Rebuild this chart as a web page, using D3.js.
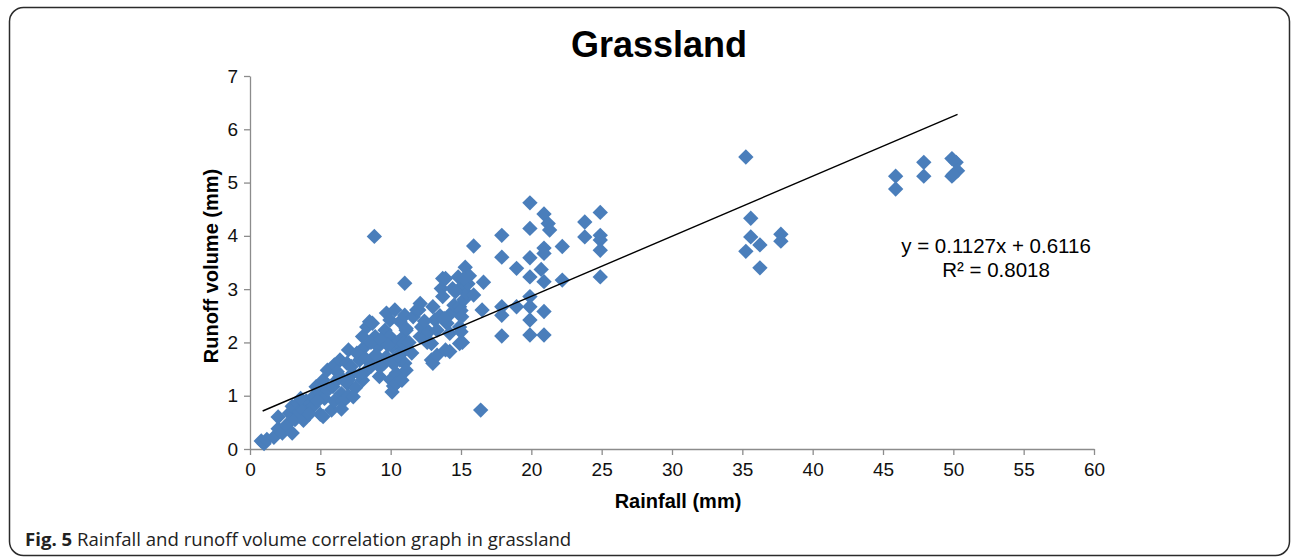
<!DOCTYPE html>
<html lang="en">
<head>
  <meta charset="UTF-8" />
  <title>Grassland rainfall vs runoff</title>
  <script src="https://d3js.org/d3.v7.min.js"></script>
  <style>
    body { margin:0; padding:0; background:#fff; }
    svg { display:block; font-family:"Liberation Sans", Arial, sans-serif; }
    .axis path, .axis line { stroke:#8c8c8c; stroke-width:1.3px; }
    .axis text { font-size:19px; fill:#111; }
  </style>
</head>
<body>
  <svg width="1292" height="557"></svg>

  <script>
  // rainfall (mm) and runoff volume (mm)
  const rainfall = [
    0.8,1.0,1.2,1.7,2.0,2.0,2.3,2.6,2.8,3.0,3.0,3.2,3.4,3.5,3.8,3.8,4.0,4.3,4.5,4.5,
    4.7,5.0,5.0,5.2,5.2,5.3,5.5,5.5,5.8,5.9,6.0,6.0,6.2,6.4,6.4,6.5,6.6,6.5,6.9,6.9,
    7.0,7.0,7.3,7.34,7.5,7.8,8.0,8.05,8.0,8.3,8.3,8.5,8.6,8.7,8.8,8.84,8.9,9.1,9.2,9.24,
    9.5,9.6,9.7,9.7,9.95,9.95,10.0,10.1,10.1,10.2,10.3,10.4,10.4,10.5,10.66,10.66,10.8,10.8,10.8,10.9,
    10.9,11.0,11.0,11.0,11.1,11.1,11.1,11.6,11.85,12.0,12.1,12.1,12.2,12.7,12.9,12.9,13.0,13.0,13.15,13.3,
    13.3,13.5,13.6,13.7,13.7,13.9,13.9,14.0,14.2,14.2,14.3,14.4,14.5,14.8,14.9,14.9,14.9,15.0,15.0,15.05,
    15.05,15.1,15.2,15.3,15.4,15.5,15.6,15.9,15.9,16.4,16.5,16.6,17.9,17.9,17.9,17.9,17.9,18.95,18.95,19.9,
    19.9,19.9,19.9,19.9,19.9,19.9,19.9,20.7,20.9,20.9,20.9,20.9,20.9,20.9,21.2,21.3,22.2,22.2,23.8,23.8,
    24.9,24.9,24.9,24.9,24.9,
    3.6,4.2,4.8,6.2,7.0,7.2,7.6,7.8,8.2,8.6,9.0,9.3,9.8,10.2,10.5,11.3,11.5,12.4,12.6,13.8,
    14.6,15.2,
    35.25,35.6,35.6,35.25,36.25,36.25,37.74,37.74,45.9,45.9,47.9,47.9,49.9,50.2,50.3,49.9,50.0
  ];
  const runoff = [
    0.15,0.10,0.18,0.22,0.38,0.60,0.30,0.45,0.67,0.30,0.80,0.55,0.86,0.70,0.73,0.54,0.90,0.86,0.98,0.80,
    1.17,1.05,0.65,0.61,1.29,0.95,1.48,1.10,0.73,1.17,1.58,0.90,1.30,1.67,1.36,1.04,0.89,0.75,1.61,1.23,
    1.86,1.00,1.42,0.98,1.15,1.67,1.29,1.89,2.11,1.48,2.29,2.39,1.55,2.36,1.73,3.99,2.11,1.92,1.36,1.54,
    1.60,2.23,1.73,2.55,2.11,2.42,1.30,1.92,1.07,1.18,2.61,1.42,1.23,2.00,2.39,1.67,2.08,1.29,1.80,1.86,
    1.98,3.11,2.51,1.61,2.23,1.48,2.26,2.48,2.61,2.61,2.73,2.11,2.29,2.20,1.98,1.67,2.67,1.61,2.42,2.23,
    1.76,2.50,3.01,3.20,2.86,3.20,1.86,2.36,2.17,1.83,2.55,3.01,2.70,3.23,2.67,2.29,1.98,2.60,2.20,3.05,
    2.48,2.00,2.80,3.41,2.92,3.10,3.25,2.89,3.81,0.73,2.61,3.13,4.01,3.60,2.67,2.51,2.12,3.39,2.67,4.62,
    4.14,3.59,3.23,2.86,2.67,2.42,2.14,3.37,4.41,3.77,3.67,3.14,2.58,2.14,4.23,4.11,3.80,3.17,4.26,3.98,
    4.44,4.01,3.92,3.73,3.23,
    0.95,0.65,0.90,1.45,1.30,1.55,1.80,1.40,1.70,2.00,1.75,2.05,1.95,1.60,1.75,2.00,1.80,2.40,2.00,2.45,
    2.95,3.20,
    5.48,4.33,3.98,3.71,3.83,3.40,4.03,3.90,5.12,4.88,5.38,5.12,5.45,5.38,5.22,5.12,5.15
  ];

  const xTicks = [0,5,10,15,20,25,30,35,40,45,50,55,60];
  const yTicks = [0,1,2,3,4,5,6,7];

  // linear trend reported on the chart
  const slope = 0.1127, intercept = 0.6116, r2 = 0.8018;
  const trendFrom = 0.9, trendTo = 50.3;

  const svg = d3.select('svg');
  const W = 1292, H = 557;

  // frame around the figure
  svg.append('rect')
    .attr('x', 9.5).attr('y', 7.5)
    .attr('width', W - 12).attr('height', H - 9)
    .attr('rx', 14).attr('ry', 14)
    .attr('fill', 'none').attr('stroke', '#2b2b2b').attr('stroke-width', 1.5);

  const x = d3.scaleLinear().domain([0, 60]).range([250, 1094]);
  const y = d3.scaleLinear().domain([0, 7]).range([449, 76]);

  // axes
  svg.append('g').attr('class','axis')
    .attr('transform', `translate(0,${y(0)})`)
    .call(d3.axisBottom(x).tickValues(xTicks).tickFormat(d3.format('d'))
      .tickSize(6).tickSizeOuter(0).tickPadding(8));
  svg.append('g').attr('class','axis')
    .attr('transform', `translate(${x(0)},0)`)
    .call(d3.axisLeft(y).tickValues(yTicks).tickFormat(d3.format('d'))
      .tickSize(6).tickSizeOuter(0).tickPadding(6));

  // points
  const pts = rainfall.map((r, i) => ({ r: r, q: runoff[i] }));
  const diamond = d3.symbol(d3.symbolSquare, 118);
  svg.append('g').selectAll('path').data(pts).enter().append('path')
    .attr('d', diamond)
    .attr('transform', d => `translate(${x(d.r)},${y(d.q)}) rotate(45)`)
    .attr('fill', '#4a7ebb');

  // trend line
  svg.append('line')
    .attr('x1', x(trendFrom)).attr('y1', y(slope * trendFrom + intercept))
    .attr('x2', x(trendTo)).attr('y2', y(slope * trendTo + intercept))
    .attr('stroke', '#000').attr('stroke-width', 1.4);

  // equation
  svg.append('text')
    .attr('x', 996).attr('y', 253).attr('text-anchor','middle')
    .style('font-size','20.5px')
    .text(`y = ${slope}x + ${intercept}`);
  svg.append('text')
    .attr('x', 996).attr('y', 277).attr('text-anchor','middle')
    .style('font-size','20.5px')
    .text(`R² = ${r2}`);

  // title and axis titles
  svg.append('text')
    .attr('x', 659).attr('y', 57).attr('text-anchor','middle')
    .style('font-size','36px').style('font-weight','bold')
    .text('Grassland');
  svg.append('text')
    .attr('x', 678).attr('y', 508).attr('text-anchor','middle')
    .style('font-size','20px').style('font-weight','bold')
    .text('Rainfall (mm)');
  svg.append('text')
    .attr('transform', 'translate(218,266) rotate(-90)')
    .attr('text-anchor','middle')
    .style('font-size','20px').style('font-weight','bold')
    .text('Runoff volume (mm)');

  // caption
  const cap = svg.append('text')
    .attr('x', 25).attr('y', 546)
    .style('font-family','"Open Sans", "Noto Sans", sans-serif')
    .style('font-size','18.6px').style('fill','#222');
  cap.append('tspan').style('font-weight','bold').text('Fig. 5');
  cap.append('tspan').text(' Rainfall and runoff volume correlation graph in grassland');
  </script>
</body>
</html>
